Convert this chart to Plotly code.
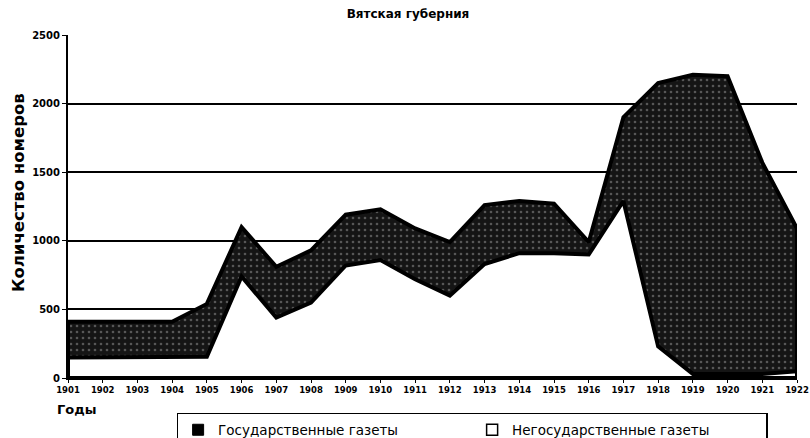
import plotly.graph_objects as go

YEARS = list(range(1901, 1923))
STATE = [410, 410, 410, 410, 540, 1100, 810, 930, 1190, 1230, 1090, 990,
         1260, 1290, 1270, 990, 1900, 2150, 2210, 2200, 1570, 1090]
NONSTATE = [150, 150, 150, 150, 155, 740, 440, 550, 820, 860, 720, 600,
            830, 910, 910, 900, 1290, 230, 30, 30, 30, 50]
Y_TICKS = [0, 500, 1000, 1500, 2000, 2500]
SERIES_NAMES = ["Государственные газеты", "Негосударственные газеты"]


def closed(xs, ys):
    # polygon: data line, down to the x-axis, back to start
    px = list(xs) + [xs[-1], xs[0], xs[0]]
    py = list(ys) + [0, 0, ys[0]]
    return px, py


fig = go.Figure()

sx, sy = closed(YEARS, STATE)
fig.add_trace(go.Scatter(
    x=sx, y=sy, mode="lines", fill="toself", showlegend=False,
    name=SERIES_NAMES[0],
    line=dict(color="black", width=4),
    fillcolor="#151515",
    fillpattern=dict(shape=".", fgcolor="#9a9a9a", bgcolor="#151515",
                     size=6, solidity=0.15),
))

nx, ny = closed(YEARS, NONSTATE)
fig.add_trace(go.Scatter(
    x=nx, y=ny, mode="lines", fill="toself", showlegend=False,
    name=SERIES_NAMES[1],
    line=dict(color="black", width=4),
    fillcolor="white",
))

# legend entries (square swatches)
fig.add_trace(go.Scatter(x=[None], y=[None], mode="markers", name=SERIES_NAMES[0],
                         marker=dict(symbol="square", size=11, color="black",
                                     line=dict(color="black", width=1))))
fig.add_trace(go.Scatter(x=[None], y=[None], mode="markers", name=SERIES_NAMES[1],
                         marker=dict(symbol="square", size=11, color="white",
                                     line=dict(color="black", width=1.5))))

fig.update_layout(
    width=810, height=438,
    margin=dict(l=68, r=13, t=35, b=60, autoexpand=False),
    paper_bgcolor="white", plot_bgcolor="white",
    title=dict(text="<b>Вятская губерния</b>", x=0.5037, xref="container",
               xanchor="center", y=0.968, yanchor="middle",
               font=dict(family="DejaVu Sans", size=12, color="black")),
    showlegend=True,
    legend=dict(orientation="h", x=0.149, xanchor="left", y=-0.102, yanchor="top",
                bordercolor="black", borderwidth=1.5, bgcolor="white",
                font=dict(family="DejaVu Sans", size=13.5, color="black"),
                entrywidth=249, itemwidth=30),
    xaxis=dict(range=[1901, 1922], tickmode="array", tickvals=YEARS,
               ticktext=[str(y) for y in YEARS],
               showgrid=False, zeroline=False, showline=True,
               linecolor="black", linewidth=2, ticks="outside", ticklen=3,
               tickcolor="black", automargin=False, ticklabeloverflow="allow",
               tickfont=dict(family="DejaVu Sans", size=8.5, color="black",
                             weight="bold"),
               fixedrange=True),
    yaxis=dict(range=[0, 2500], tickmode="array", tickvals=Y_TICKS,
               showgrid=True, gridcolor="black", gridwidth=2,
               zeroline=False, showline=True, linecolor="black", linewidth=2,
               ticks="outside", ticklen=4, tickcolor="black", automargin=False,
               tickfont=dict(family="DejaVu Sans", size=10, color="black",
                             weight="bold"),
               fixedrange=True),
    annotations=[
        dict(text="<b>Количество номеров</b>", textangle=-90,
             xref="paper", yref="paper", x=-0.0686, y=0.542,
             xanchor="center", yanchor="middle", showarrow=False,
             font=dict(family="DejaVu Sans", size=16.5, color="black")),
        dict(text="<b>Годы</b>", xref="paper", yref="paper",
             x=-0.018, y=-0.093, xanchor="left", yanchor="middle",
             showarrow=False,
             font=dict(family="DejaVu Sans", size=13, color="black")),
    ],
)

# remove the page's default body margin so the figure fills the window exactly
fig.write_html("out.html",
               config={"displayModeBar": False},
               post_script="document.body.style.margin='0';"
                           "document.body.style.overflow='hidden';")
